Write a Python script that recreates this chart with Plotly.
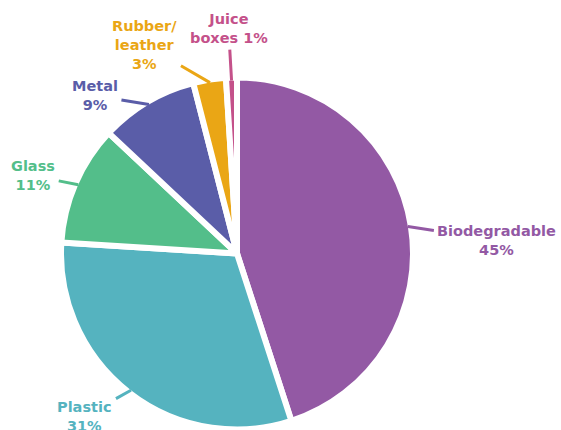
import math
import plotly.graph_objects as go

# Share of waste by material (percent)
categories = ["Biodegradable", "Plastic", "Glass", "Metal", "Rubber/<br>leather", "Juice<br>boxes"]
values = [45, 31, 11, 9, 3, 1]
label_text = ["Biodegradable<br>45%", "Plastic<br>31%", "Glass<br>11%", "Metal<br>9%",
              "Rubber/<br>leather<br>3%", "Juice<br>boxes 1%"]
colors = ["#9359A4", "#55B3BF", "#53BE8A", "#5A5DA8", "#EAA615", "#C4518A"]

W, H = 561, 430
cx, cy, R = 237, 253.5, 176          # pie centre and radius in pixels
edge_r = 173                          # where leader lines touch the slices
# pixel offsets of each label from its leader tip
label_offsets = [(89, 14), (-46, 26), (-45, -9), (-54, -9), (-65, -38), (-3, -52)]

fig = go.Figure(go.Pie(
    labels=categories,
    values=values,
    sort=False,
    direction="clockwise",
    rotation=0,
    textinfo="none",
    hoverinfo="label+percent",
    marker=dict(colors=colors, line=dict(color="white", width=6)),
    domain=dict(x=[(cx - R) / W, (cx + R) / W],
                y=[(H - cy - R) / H, (H - cy + R) / H]),
    showlegend=False,
))

total = sum(values)
cum = 0
annotations = []
for val, txt, col, (ox, oy) in zip(values, label_text, colors, label_offsets):
    mid = (cum + val / 2) / total * 2 * math.pi
    cum += val
    tx = cx + edge_r * math.sin(mid)
    ty = cy - edge_r * math.cos(mid)
    annotations.append(dict(
        x=tx / W, y=1 - ty / H, xref="paper", yref="paper",
        text=f"<b>{txt}</b>", showarrow=True, arrowhead=0,
        arrowwidth=3, arrowcolor=col, ax=ox, ay=oy, standoff=0,
        borderpad=3, align="center",
        font=dict(family="DejaVu Sans", size=14.5, color=col),
    ))

fig.update_layout(
    width=W, height=H,
    margin=dict(l=0, r=0, t=0, b=0),
    paper_bgcolor="white",
    plot_bgcolor="white",
    annotations=annotations,
)

fig.write_html("out.html")
